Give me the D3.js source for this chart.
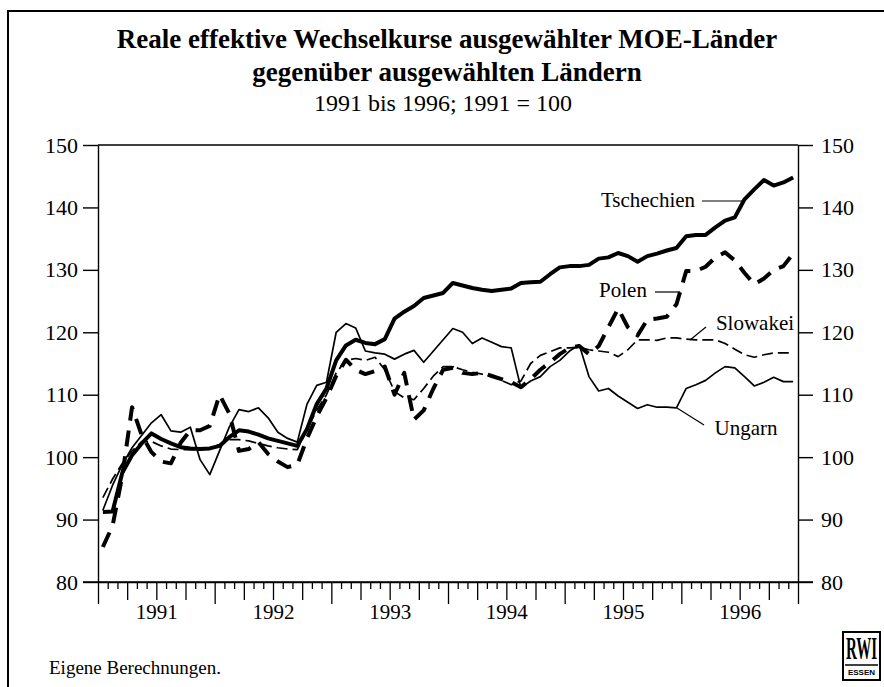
<!DOCTYPE html>
<html>
<head>
<meta charset="utf-8">
<script src="https://cdn.jsdelivr.net/npm/d3@7"></script>
<style>
  body { margin: 0; background: #fff; }
</style>
</head>
<body>
<div id="chart"></div>
<script>
const years = ["1991", "1992", "1993", "1994", "1995", "1996"];
const yTicks = [80, 90, 100, 110, 120, 130, 140, 150];

// monthly values, Jan 1991 .. Dec 1996
const tschechien = [
    91.2, 91.3, 97.5, 100.3, 102.2, 103.8, 102.9, 102.2, 101.6, 101.4, 101.3, 101.4,
    101.8, 103.2, 104.3, 104.1, 103.6, 103.0, 102.6, 102.2, 101.8, 104.5, 108.5, 111.0,
    115.5, 117.9, 118.8, 118.3, 118.1, 118.9, 122.2, 123.3, 124.2, 125.5, 125.9, 126.3,
    127.9, 127.5, 127.1, 126.8, 126.6, 126.8, 127.0, 127.9, 128.0, 128.1, 129.3, 130.4,
    130.6, 130.6, 130.8, 131.8, 132.0, 132.7, 132.2, 131.3, 132.2, 132.6, 133.1, 133.5,
    135.4, 135.6, 135.6, 136.8, 137.9, 138.4, 141.3, 142.9, 144.4, 143.5, 144.0, 144.8
];
const polen = [
    85.6, 89.0, 97.0, 108.0, 103.5, 100.8, 99.3, 99.0, 102.3, 104.3, 104.3, 105.0,
    110.0, 107.0, 101.0, 101.3, 102.4, 100.5, 99.3, 98.4, 98.8, 103.0, 106.5, 109.5,
    113.0, 115.6, 114.0, 113.3, 113.8, 114.5, 110.0, 113.5, 106.0, 107.5, 111.0, 114.0,
    114.3, 113.5, 113.3, 113.5, 113.0, 112.5, 112.0, 111.2, 112.5, 114.0, 115.2, 116.5,
    117.5, 117.8, 116.5, 117.8, 120.8, 123.8, 120.8, 119.5, 122.0, 122.2, 122.5, 124.5,
    129.8, 129.8, 130.5, 132.0, 132.8, 131.5, 129.5, 127.7, 128.6, 130.0, 130.6, 132.6
];
const slowakei = [
    93.5, 96.5, 99.0, 101.0, 102.5, 102.5, 101.8, 101.3, 101.2, 101.2, 101.2, 101.4,
    102.0, 102.8, 102.8, 102.6, 102.2, 101.8, 101.5, 101.3, 101.2, 104.5, 107.5, 110.0,
    113.5, 115.5, 115.8, 115.5, 116.0, 114.0, 110.5, 109.5, 109.2, 111.0, 113.0, 114.5,
    114.5, 114.0, 113.6, 113.3, 113.0, 112.3, 111.6, 112.2, 115.0, 116.3, 116.9, 117.5,
    117.5, 117.6, 117.2, 117.0, 116.8, 116.1, 117.2, 118.8, 118.8, 118.7, 119.1, 119.1,
    118.9, 118.8, 118.8, 118.8, 118.2, 117.3, 116.4, 116.0, 116.4, 116.7, 116.7, 116.7
];
const ungarn = [
    91.5, 95.5, 98.8, 101.5, 103.5, 105.5, 106.8, 104.2, 104.0, 104.8, 99.6, 97.2,
    101.0, 104.8, 107.6, 107.3, 107.9, 106.3, 104.0, 103.0, 102.4, 108.5, 111.5, 112.0,
    120.0, 121.4, 120.7, 117.0, 116.7, 116.5, 115.7, 116.5, 117.1, 115.2, 117.0, 118.8,
    120.6, 120.0, 118.2, 119.1, 118.4, 117.7, 117.5, 111.1, 112.2, 112.9, 114.5, 115.5,
    117.0, 118.0, 112.9, 110.6, 111.0, 109.8, 108.8, 107.8, 108.4, 108.0, 108.0, 107.9,
    111.0, 111.6, 112.3, 113.5, 114.5, 114.3, 112.9, 111.4, 112.0, 112.8, 112.1, 112.1
];

const series = [
    { name: "Ungarn", values: ungarn, width: 1.7, dash: null },
    { name: "Slowakei", values: slowakei, width: 1.7, dash: "11,5" },
    { name: "Polen", values: polen, width: 4, dash: "16,10" },
    { name: "Tschechien", values: tschechien, width: 4, dash: null }
];

const serif = "Liberation Serif, Times New Roman, serif";
const width = 884, height = 687,
    plotLeft = 98, plotRight = 798, plotTop = 145, plotBottom = 582;

const svg = d3.select("#chart").append("svg")
    .attr("width", width)
    .attr("height", height)
    .attr("font-family", serif);

// outer frame (only top and left edges are visible)
svg.append("path")
    .attr("d", `M8,687 V11 H884`)
    .attr("fill", "none")
    .attr("stroke", "#000")
    .attr("stroke-width", 2);

// titles
svg.append("text").attr("x", 447).attr("y", 48)
    .attr("text-anchor", "middle").attr("font-size", 27).attr("font-weight", "bold")
    .attr("font-family", serif)
    .text("Reale effektive Wechselkurse ausgewählter MOE-Länder");
svg.append("text").attr("x", 447).attr("y", 81)
    .attr("text-anchor", "middle").attr("font-size", 27).attr("font-weight", "bold")
    .attr("font-family", serif)
    .text("gegenüber ausgewählten Ländern");
svg.append("text").attr("x", 443).attr("y", 111)
    .attr("text-anchor", "middle").attr("font-size", 24)
    .attr("font-family", serif)
    .text("1991 bis 1996; 1991 = 100");

const nMonths = years.length * 12;
const x = d3.scaleLinear().domain([0, nMonths]).range([plotLeft, plotRight]);
const y = d3.scaleLinear().domain([80, 150]).range([plotBottom, plotTop]);

// y axes on both sides
const yLeft = svg.append("g")
    .attr("transform", `translate(${plotLeft},0)`)
    .call(d3.axisLeft(y).tickValues(yTicks).tickSize(15).tickSizeOuter(0).tickPadding(5));
const yRight = svg.append("g")
    .attr("transform", `translate(${plotRight},0)`)
    .call(d3.axisRight(y).tickValues(yTicks).tickSize(15).tickSizeOuter(0).tickPadding(8));
[yLeft, yRight].forEach(g => {
    g.attr("font-family", serif);
    g.selectAll("text").attr("font-size", 22).attr("font-family", serif);
    g.selectAll("line, path").attr("stroke-width", 1.4);
});

// top edge of plot
svg.append("line")
    .attr("x1", plotLeft).attr("x2", plotRight)
    .attr("y1", plotTop).attr("y2", plotTop)
    .attr("stroke", "#000").attr("stroke-width", 1.4);

// x axis: monthly ticks, longer at quarters, longest at years
const xAxis = svg.append("g")
    .attr("transform", `translate(0,${plotBottom})`)
    .call(d3.axisBottom(x).tickValues(d3.range(0, nMonths + 1)).tickSize(7)
        .tickSizeOuter(0).tickFormat(""));
xAxis.selectAll(".tick line")
    .attr("y2", d => d % 12 === 0 ? 22 : (d % 3 === 0 ? 18 : 7))
    .attr("stroke-width", 1.3);
xAxis.select(".domain").attr("stroke-width", 1.4);
svg.append("line")
    .attr("x1", plotLeft - 15).attr("x2", plotRight + 15)
    .attr("y1", plotBottom).attr("y2", plotBottom)
    .attr("stroke", "#000").attr("stroke-width", 1.4);

// year labels centred in each year
svg.append("g")
    .attr("transform", `translate(0,${plotBottom})`)
    .attr("font-family", serif)
    .call(d3.axisBottom(x).tickValues(years.map((d, i) => i * 12 + 6)).tickSize(0)
        .tickPadding(22).tickFormat((d, i) => years[i]))
    .call(g => g.select(".domain").remove())
    .selectAll("text").attr("font-size", 21).attr("font-family", serif);

// lines
const line = d3.line()
    .x((d, i) => x(i + 0.5))
    .y(d => y(d));

svg.append("g").selectAll("path")
    .data(series)
    .join("path")
    .attr("d", d => line(d.values))
    .attr("fill", "none")
    .attr("stroke", "#000")
    .attr("stroke-width", d => d.width)
    .attr("stroke-dasharray", d => d.dash)
    .attr("stroke-linejoin", "round");

// labels with leader lines
const labels = [
    { text: "Tschechien", tx: 648, ty: 207, lx1: 702, ly1: 201, lx2: 743, ly2: 201 },
    { text: "Polen", tx: 623, ty: 297, lx1: 655, ly1: 292, lx2: 680, ly2: 292 },
    { text: "Slowakei", tx: 755, ty: 330, lx1: 706, ly1: 327, lx2: 690, ly2: 340 },
    { text: "Ungarn", tx: 746, ty: 435, lx1: 677, ly1: 408, lx2: 704, ly2: 425 }
];
const lab = svg.append("g").selectAll("g").data(labels).join("g");
lab.append("text")
    .attr("x", d => d.tx).attr("y", d => d.ty)
    .attr("text-anchor", "middle")
    .attr("font-size", 21)
    .attr("font-family", serif)
    .text(d => d.text);
lab.append("line")
    .attr("x1", d => d.lx1).attr("y1", d => d.ly1)
    .attr("x2", d => d.lx2).attr("y2", d => d.ly2)
    .attr("stroke", "#000").attr("stroke-width", 1.2);

// source note
svg.append("text").attr("x", 49).attr("y", 674)
    .attr("font-size", 19)
    .attr("font-family", serif)
    .text("Eigene Berechnungen.");

// RWI logo
const logo = svg.append("g").attr("transform", "translate(843,632)");
logo.append("rect").attr("x", 0).attr("y", 0).attr("width", 37).attr("height", 48)
    .attr("fill", "none").attr("stroke", "#000").attr("stroke-width", 2);
logo.append("text").attr("x", 0).attr("y", 27)
    .attr("text-anchor", "middle").attr("font-size", 32).attr("font-weight", "bold")
    .attr("font-family", serif)
    .attr("transform", "translate(18.5,0) scale(0.47,1)")
    .text("RWI");
logo.append("line").attr("x1", 2).attr("x2", 35).attr("y1", 33).attr("y2", 33)
    .attr("stroke", "#000").attr("stroke-width", 1.5);
logo.append("text").attr("x", 18.5).attr("y", 43)
    .attr("text-anchor", "middle").attr("font-size", 8).attr("font-weight", "bold")
    .attr("font-family", "Liberation Sans, sans-serif")
    .text("ESSEN");
</script>
</body>
</html>
